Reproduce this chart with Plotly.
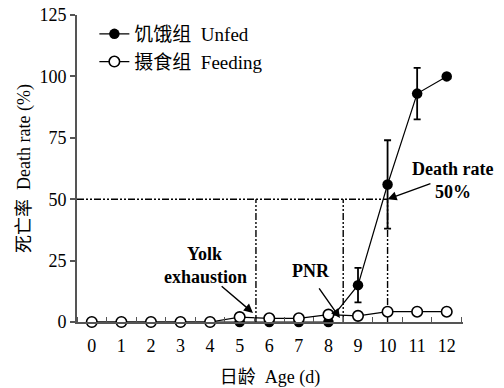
import plotly.graph_objects as go

# Age in days
days = [0, 1, 2, 3, 4, 5, 6, 7, 8, 9, 10, 11, 12]
# Cumulative death rate (%) of unfed larvae, with standard deviations
unfed = [0, 0, 0, 0, 0, 0, 0, 0, 0, 15, 56, 93, 100]
unfed_sd = [0, 0, 0, 0, 0, 0, 0, 0, 0, 7, 18, 10.5, 0]
# Cumulative death rate (%) of fed larvae
feeding = [0, 0, 0, 0, 0, 2, 1.5, 1.5, 3, 2.5, 4.2, 4.2, 4.2]

# Key time points (day) and the 50 % mortality level
yolk_day = 5.55
pnr_day = 8.5
half_day = 10
half_rate = 50

x_ticks = list(range(0, 13))
y_ticks = [0, 25, 50, 75, 100, 125]

FONT = "Liberation Serif, Times New Roman, Noto Sans CJK SC, serif"
DASH = "7px,2px,2px,2px,2px,2px"
TICKFONT = dict(family=FONT, size=18, color="black")

fig = go.Figure()

fig.add_trace(go.Scatter(
    x=days, y=unfed, name="饥饿组  Unfed", mode="lines+markers",
    line=dict(color="black", width=1.2),
    marker=dict(symbol="circle", size=10.5, color="black"),
    error_y=dict(type="data", array=unfed_sd, visible=True,
                 color="black", thickness=1.8, width=3.5),
    cliponaxis=False,
))
fig.add_trace(go.Scatter(
    x=days, y=feeding, name="摄食组  Feeding", mode="lines+markers",
    line=dict(color="black", width=1.2),
    marker=dict(symbol="circle", size=10.5, color="white",
                line=dict(color="black", width=1.6)),
    cliponaxis=False,
))

# Dash-dot reference lines
fig.add_shape(type="line", xref="x", yref="y", x0=-0.5, x1=half_day,
              y0=half_rate, y1=half_rate,
              line=dict(color="black", width=1.4, dash=DASH), layer="below")
for xd in (yolk_day, pnr_day, half_day):
    fig.add_shape(type="line", xref="x", yref="y", x0=xd, x1=xd,
                  y0=0, y1=half_rate,
                  line=dict(color="black", width=1.4, dash=DASH), layer="below")

# Arrows pointing at the key time points
arrows = [
    (yolk_day - 0.1, 3.7, 4.34, 15.1),
    (pnr_day - 0.11, 1.6, 7.65, 14.3),
    (half_day, half_rate, 11.5, 56.6),
]
for tx, ty, sx, sy in arrows:
    fig.add_annotation(x=tx, y=ty, ax=sx, ay=sy, xref="x", yref="y",
                       axref="x", ayref="y", text="", showarrow=True,
                       arrowhead=2, arrowsize=1.3, arrowwidth=1.4,
                       arrowcolor="black")

bold = dict(family=FONT, size=18, color="black")
fig.add_annotation(x=3.8, y=27.7, xref="x", yref="y", text="<b>Yolk</b>",
                   showarrow=False, font=bold, borderpad=0)
fig.add_annotation(x=3.83, y=18.5, xref="x", yref="y", text="<b>exhaustion</b>",
                   showarrow=False, font=bold, borderpad=0)
fig.add_annotation(x=7.4, y=20.8, xref="x", yref="y", text="<b>PNR</b>",
                   showarrow=False, font=bold, borderpad=0)
fig.add_annotation(x=12.2, y=62.2, xref="x", yref="y", text="<b>Death rate</b>",
                   showarrow=False, font=bold, borderpad=0)
fig.add_annotation(x=12.2, y=53.0, xref="x", yref="y", text="<b>50%</b>",
                   showarrow=False, font=bold, borderpad=0)

fig.update_layout(
    width=504, height=388,
    margin=dict(l=77, r=41, t=15, b=66),
    paper_bgcolor="white", plot_bgcolor="white",
    font=dict(family=FONT, size=18, color="black"),
    showlegend=True,
    legend=dict(x=0.045, y=1.0, xanchor="left", yanchor="top",
                bgcolor="rgba(0,0,0,0)", borderwidth=0,
                font=dict(family=FONT, size=19, color="black"),
                tracegroupgap=0),
    xaxis=dict(
        range=[-0.5, 12.55], tickvals=x_ticks, ticktext=[str(v) for v in x_ticks],
        ticks="", showgrid=False, zeroline=False, tickfont=TICKFONT,
        showline=True, linecolor="#555", linewidth=2, automargin=False,
        minor=dict(ticks="inside", tick0=0.5, dtick=1, ticklen=5,
                   tickcolor="#555", tickwidth=1.2, showgrid=False),
        ticklabelstandoff=6,
        title=dict(text="日龄  Age (d)", standoff=17,
                   font=dict(family=FONT, size=18)),
    ),
    yaxis=dict(
        range=[0, 125], tickvals=y_ticks, ticks="outside", ticklen=5,
        tickcolor="#555", tickwidth=1.5, showgrid=False, zeroline=False,
        tickfont=TICKFONT, automargin=False,
        showline=True, linecolor="#555", linewidth=2,
        title=dict(text="死亡率  Death rate (%)", standoff=4,
                   font=dict(family=FONT, size=18)),
    ),
)

fig.write_html("out.html")
